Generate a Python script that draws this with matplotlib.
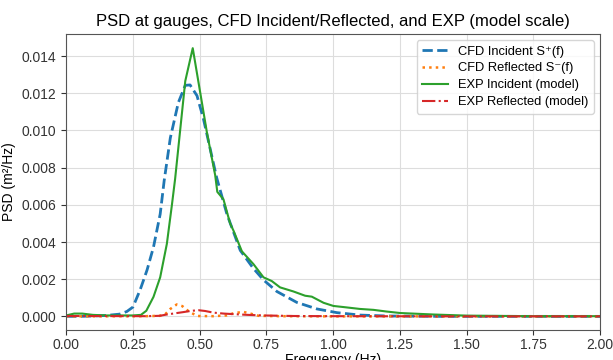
import matplotlib.pyplot as plt
import numpy as np

plt.rcParams['font.family'] = ['Liberation Sans', 'DejaVu Sans']

# CFD incident S+(f)
f_cfd_inc = [0, 0.05, 0.1, 0.15, 0.2, 0.227, 0.25, 0.277, 0.29, 0.303, 0.327, 0.352,
             0.367, 0.39, 0.42, 0.446, 0.464, 0.49, 0.514, 0.539, 0.564, 0.602, 0.652,
             0.7, 0.739, 0.789, 0.864, 0.939, 1.014, 1.1, 1.2, 1.4, 1.6, 1.8, 2.0]
s_cfd_inc = [0, 0, 0.00002, 0.00005, 0.00012, 0.00026, 0.0005, 0.00143, 0.00196, 0.0025,
             0.00373, 0.0055, 0.0073, 0.0096, 0.0115, 0.01243, 0.01245, 0.01187, 0.01063,
             0.00903, 0.00744, 0.0055, 0.00355, 0.0026, 0.00196, 0.00134, 0.00075, 0.0004,
             0.0002, 0.00007, 0.00002, 0, 0, 0, 0]

# CFD reflected S-(f)
f_cfd_ref = [0, 0.3, 0.35, 0.37, 0.39, 0.414, 0.435, 0.458, 0.49, 0.55, 0.6, 0.63, 0.664,
             0.69, 0.72, 0.8, 1.0, 1.5, 2.0]
s_cfd_ref = [0, 0.00001, 0.00003, 0.0001, 0.0004, 0.00064, 0.00055, 0.00028, 0.00002,
             0.00001, 0.00005, 0.00018, 0.00024, 0.00015, 0.00003, 0.00001, 0, 0, 0]

# EXP incident (model)
f_exp_inc = [0, 0.03, 0.06, 0.1, 0.15, 0.2, 0.25, 0.28, 0.3, 0.327, 0.352, 0.377, 0.396,
             0.408, 0.446, 0.474, 0.502, 0.527, 0.558, 0.566, 0.589, 0.614, 0.627, 0.658,
             0.702, 0.739, 0.77, 0.801, 0.851, 0.895, 0.92, 0.964, 1.001, 1.039, 1.1,
             1.151, 1.2, 1.251, 1.376, 1.5, 1.75, 2.0]
s_exp_inc = [0.00005, 0.00015, 0.00015, 0.00008, 0.00005, 0.00005, 0.00005, 0.00008,
             0.0003, 0.00105, 0.0021, 0.0039, 0.006, 0.0074, 0.01266, 0.01443, 0.01204,
             0.0099, 0.0076, 0.0067, 0.0063, 0.005, 0.0046, 0.0035, 0.0028, 0.0021, 0.0019,
             0.00156, 0.00134, 0.00111, 0.00106, 0.00073, 0.00056, 0.0005, 0.0004, 0.00035,
             0.00026, 0.00018, 0.0001, 0.00004, 0.00001, 0.00001]

# EXP reflected (model)
f_exp_ref = [0, 0.3, 0.35, 0.377, 0.41, 0.439, 0.47, 0.496, 0.52, 0.552, 0.59, 0.627,
             0.68, 0.739, 0.85, 1.0, 1.5, 2.0]
s_exp_ref = [0.00002, 0.00001, 0.00003, 0.0001, 0.00017, 0.00023, 0.0003, 0.00033,
             0.00029, 0.0002, 0.00015, 0.00012, 0.00008, 0.00005, 0.00002, 0.00001, 0, 0]

fig, ax = plt.subplots(figsize=(6.13, 3.6), dpi=100)
fig.subplots_adjust(left=0.108, right=0.979, top=0.906, bottom=0.083)

ax.plot(f_cfd_inc, s_cfd_inc, "--", color="#1f77b4", lw=2, label="CFD Incident S⁺(f)")
ax.plot(f_cfd_ref, s_cfd_ref, ":", color="#ff7f0e", lw=1.8, label="CFD Reflected S⁻(f)")
ax.plot(f_exp_inc, s_exp_inc, "-", color="#2ca02c", lw=1.5, label="EXP Incident (model)")
ax.plot(f_exp_ref, s_exp_ref, "-.", color="#d62728", lw=1.5, label="EXP Reflected (model)")

ax.set_xlim(0, 2.0)
ax.set_ylim(-0.00074, 0.0152)
ax.set_xticks(np.arange(0, 2.01, 0.25))
ax.set_yticks(np.arange(0, 0.0141, 0.002))
ax.grid(True, color="#dddddd", lw=0.8)
for s in ax.spines.values():
    s.set_color("#555555")
ax.tick_params(colors="#333333", labelsize=10)
ax.tick_params(axis="x", pad=2.5)
ax.set_xlabel("Frequency (Hz)", fontsize=10, labelpad=0.5)
ax.set_ylabel("PSD (m²/Hz)", fontsize=10)
ax.set_title("PSD at gauges, CFD Incident/Reflected, and EXP (model scale)", fontsize=12)
ax.legend(loc="upper right", fontsize=9.3, labelspacing=0.38)

fig.savefig("out.png", dpi=100)
